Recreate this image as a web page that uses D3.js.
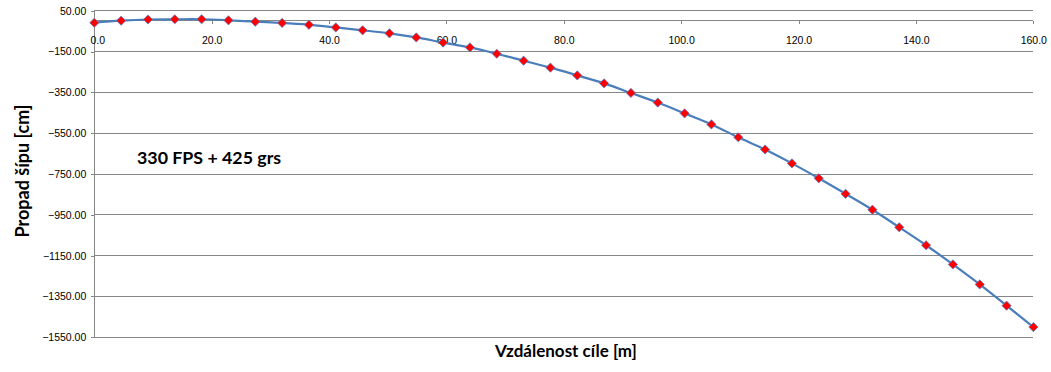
<!DOCTYPE html>
<html>
<head>
<meta charset="utf-8">
<script src="https://cdn.jsdelivr.net/npm/d3@7"></script>
<style>
  html, body { margin: 0; padding: 0; background: #fff; }
  svg { display: block; }
</style>
</head>
<body>
<svg id="chart" width="1051" height="372"></svg>
<script>
// ---- data ----
const distances = d3.range(0, 36).map(i => +(i * 4.572).toFixed(3)); // metres (every 5 yards)
const drops = [
  -9, 1, 7, 8, 8, 3, -4, -10, -19, -32, -46,
  -61, -81, -106, -130, -161, -195, -229, -267, -306, -353,
  -400, -453, -507, -570, -630, -698, -771, -847, -925, -1011,
  -1099, -1193, -1291, -1395, -1500
];
const xTicks = [0, 20, 40, 60, 80, 100, 120, 140, 160];
const yTicks = [50, -150, -350, -550, -750, -950, -1150, -1350, -1550];
const xTitle = "Vzdálenost cíle [m]";
const yTitle = "Propad šípu [cm]";
const annotation = "330 FPS + 425 grs";

// ---- layout ----
const svg = d3.select("#chart");
const m = { left: 94.3, right: 1033.3, top: 10.7, bottom: 337.3 };

const x = d3.scaleLinear().domain([0, 160]).range([m.left, m.right]);
const y = d3.scaleLinear().domain([-1550, 50]).range([m.bottom, m.top]);

const tickFont = "'Liberation Sans', Arial, sans-serif";
const titleFont = "Lato, 'Open Sans', sans-serif";

// gridlines
svg.append("g")
  .selectAll("line")
  .data(yTicks)
  .join("line")
  .attr("x1", m.left).attr("x2", m.right)
  .attr("y1", d => y(d)).attr("y2", d => y(d))
  .attr("stroke", "#868686").attr("stroke-width", 1)
  .attr("shape-rendering", "crispEdges");

// y axis
const yAxis = svg.append("g")
  .attr("transform", `translate(${m.left},0)`)
  .call(d3.axisLeft(y).tickValues(yTicks).tickSize(3).tickPadding(5)
    .tickFormat(d3.format(".2f")));
yAxis.select(".domain").attr("stroke", "#868686").attr("shape-rendering", "crispEdges");
yAxis.selectAll(".tick line").attr("stroke", "#868686").attr("shape-rendering", "crispEdges");
yAxis.selectAll("text").attr("font-family", tickFont).attr("font-size", "10.5px").attr("fill", "#000");

// x axis at y = 0
const xAxis = svg.append("g")
  .attr("transform", `translate(0,${y(0)})`)
  .call(d3.axisBottom(x).tickValues(xTicks).tickSize(3).tickPadding(13)
    .tickFormat(d3.format(".1f")));
xAxis.select(".domain").attr("stroke", "#868686").attr("d", `M${m.left},0H${m.right}`)
  .attr("shape-rendering", "crispEdges");
xAxis.selectAll(".tick line").attr("stroke", "#868686").attr("shape-rendering", "crispEdges");
xAxis.selectAll("text").attr("font-family", tickFont).attr("font-size", "10.5px").attr("fill", "#000");
xAxis.selectAll(".tick").filter(d => d === 0).select("text").attr("dx", 3);

// line
const pts = distances.map((d, i) => [d, drops[i]]);
svg.append("path")
  .datum(pts)
  .attr("fill", "none")
  .attr("stroke", "#4a7ebb")
  .attr("stroke-width", 2.2)
  .attr("d", d3.line().x(d => x(d[0])).y(d => y(d[1])).curve(d3.curveCatmullRom.alpha(0.5)));

// markers
svg.append("g")
  .selectAll("path")
  .data(pts)
  .join("path")
  .attr("transform", d => `translate(${x(d[0])},${y(d[1])})`)
  .attr("d", "M0,-4.6L4.6,0L0,4.6L-4.6,0Z")
  .attr("fill", "#ff0000")
  .attr("stroke", "#5a7fc0")
  .attr("stroke-width", 0.8);

// annotation
svg.append("text")
  .attr("x", 137).attr("y", 164)
  .attr("font-family", titleFont).attr("font-weight", "bold").attr("font-size", "17.8px")
  .attr("fill", "#000")
  .text(annotation);

// axis titles
svg.append("text")
  .attr("x", 566).attr("y", 357)
  .attr("text-anchor", "middle")
  .attr("font-family", titleFont).attr("font-weight", "bold").attr("font-size", "17px")
  .attr("fill", "#000")
  .text(xTitle);

svg.append("text")
  .attr("transform", "translate(29,171) rotate(-90)")
  .attr("text-anchor", "middle")
  .attr("font-family", titleFont).attr("font-weight", "bold").attr("font-size", "18px")
  .attr("fill", "#000")
  .text(yTitle);
</script>
</body>
</html>
